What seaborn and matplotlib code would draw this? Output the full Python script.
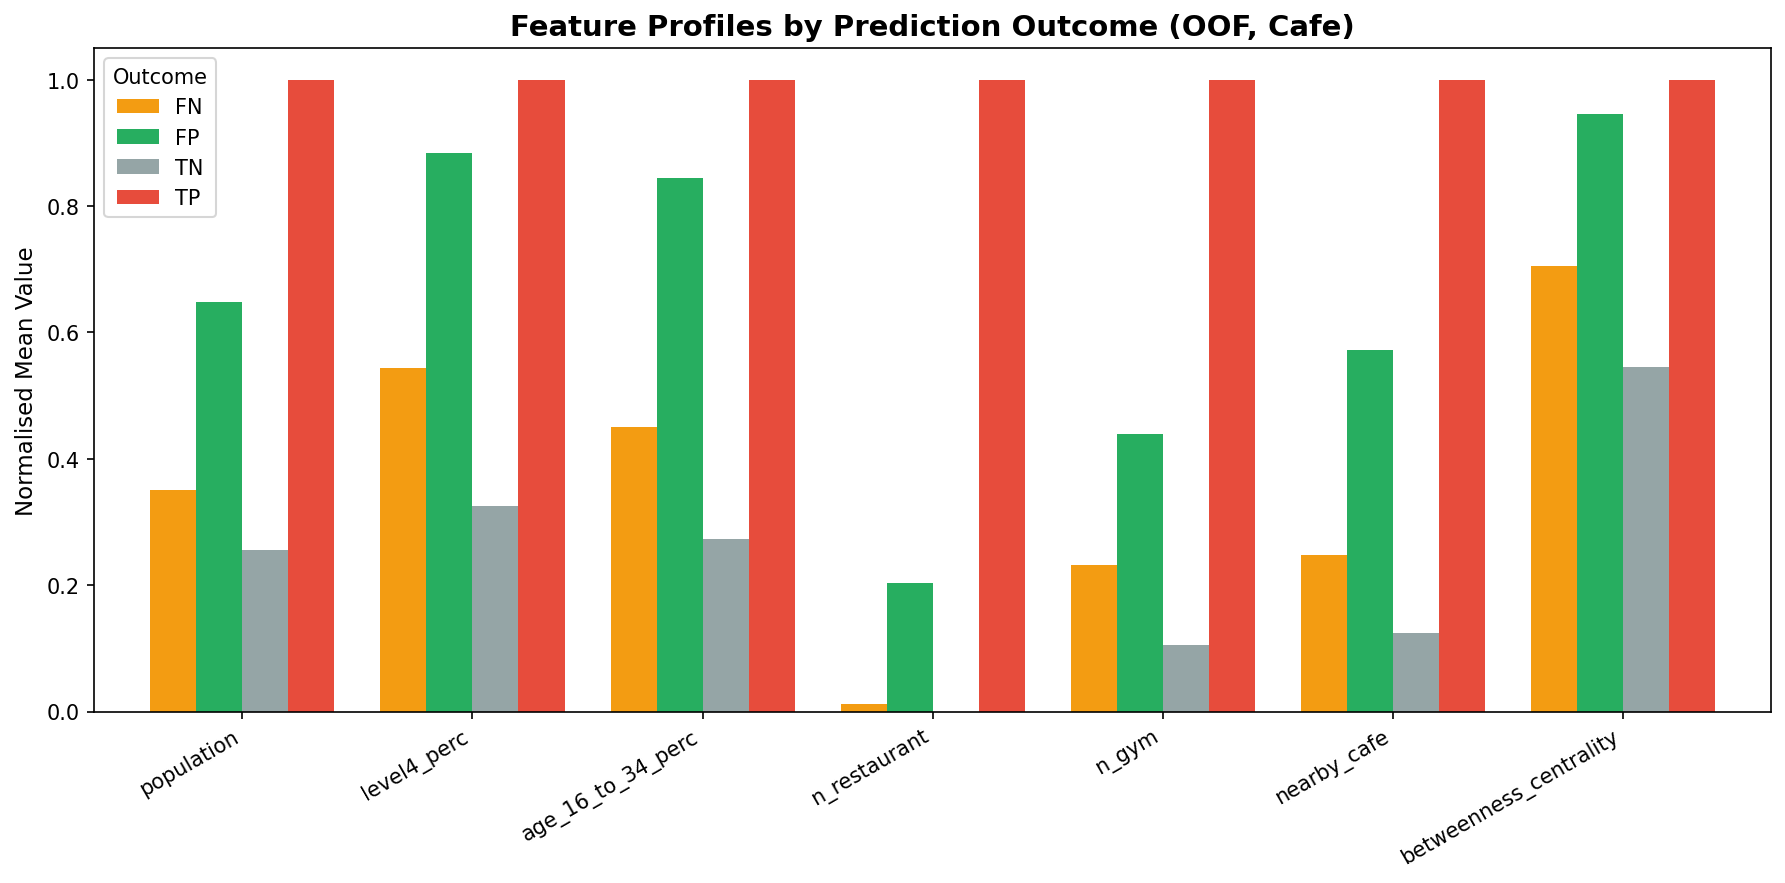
"""Feature profiles by prediction outcome (OOF, Cafe)."""

import matplotlib
matplotlib.use("Agg")
import matplotlib.pyplot as plt
import pandas as pd
import seaborn as sns

features = [
    "population", "level4_perc", "age_16_to_34_perc", "n_restaurant",
    "n_gym", "nearby_cafe", "betweenness_centrality",
]
outcomes = ["FN", "FP", "TN", "TP"]

fn_vals = [0.350, 0.543, 0.450, 0.012, 0.232, 0.247, 0.705]
fp_vals = [0.648, 0.884, 0.845, 0.204, 0.439, 0.572, 0.946]
tn_vals = [0.256, 0.326, 0.273, 0.000, 0.106, 0.124, 0.545]
tp_vals = [1.0, 1.0, 1.0, 1.0, 1.0, 1.0, 1.0]

palette = {"FN": "#f39c12", "FP": "#27ae60", "TN": "#95a5a6", "TP": "#e74c3c"}

rows = []
for outcome, vals in zip(outcomes, [fn_vals, fp_vals, tn_vals, tp_vals]):
    for feat, v in zip(features, vals):
        rows.append({"feature": feat, "Outcome": outcome, "value": v})
df = pd.DataFrame(rows)

plt.rcParams["font.family"] = ["DejaVu Sans"]

fig, ax = plt.subplots(figsize=(11.9, 5.893), dpi=150)
fig.subplots_adjust(left=0.0527, right=0.9922, top=0.9446, bottom=0.1940)

sns.barplot(
    data=df, x="feature", y="value", hue="Outcome",
    order=features, hue_order=outcomes, palette=palette,
    width=0.8, saturation=1, linewidth=0, ax=ax,
)

ax.set_xlim(-0.645, len(features) - 1 + 0.645)
ax.set_ylim(0, 1.05)
ax.set_xlabel("")
ax.set_ylabel("Normalised Mean Value", fontsize=11)
ax.set_title("Feature Profiles by Prediction Outcome (OOF, Cafe)",
             fontsize=14, fontweight="bold")
plt.setp(ax.get_xticklabels(), rotation=30, ha="right", fontsize=10)
plt.setp(ax.get_yticklabels(), fontsize=10)

ax.legend(title="Outcome", loc="upper left", fontsize=10, title_fontsize=10)

plt.savefig("out.png", dpi=150)
plt.close()
